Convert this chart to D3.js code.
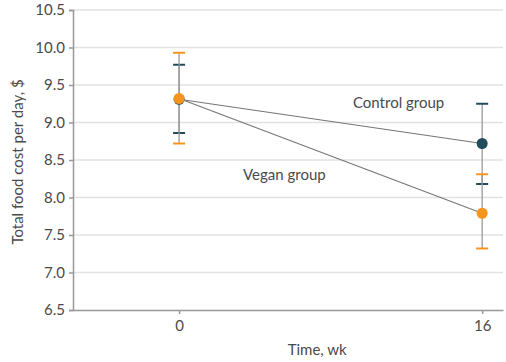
<!DOCTYPE html>
<html>
<head>
<meta charset="utf-8">
<script src="https://cdn.jsdelivr.net/npm/d3@7"></script>
<style>
  body { margin: 0; background: #fff; }
  text { font-family: Lato, "Open Sans", sans-serif; fill: #4a4a4a; }
</style>
</head>
<body>
<div id="chart"></div>
<script>
// data
const weeks = [0, 16];
const groups = ["Control group", "Vegan group"];
const controlMean = [9.31, 8.72];
const controlLow = [8.86, 8.18];
const controlHigh = [9.77, 9.25];
const veganMean = [9.32, 7.79];
const veganLow = [8.72, 7.32];
const veganHigh = [9.93, 8.31];
const yTicks = [6.5, 7.0, 7.5, 8.0, 8.5, 9.0, 9.5, 10.0, 10.5];

const W = 506, H = 362;
const margin = { top: 10, right: 3, bottom: 52, left: 73 };
const width = W - margin.left - margin.right;
const height = H - margin.top - margin.bottom;

const svg = d3.select("#chart")
  .append("svg")
  .attr("width", W)
  .attr("height", H)
  .append("g")
  .attr("transform", `translate(${margin.left}, ${margin.top})`);

const x = d3.scaleLinear().domain([-5.6, 17.1]).range([0, width]);
const y = d3.scaleLinear().domain([6.5, 10.5]).range([height, 0]);

const colors = { control: "#1f4d5c", vegan: "#f7941d" };
const fs = "15px";

// grid
svg.append("g")
  .selectAll("line")
  .data(yTicks.slice(1))
  .join("line")
  .attr("x1", 0).attr("x2", width)
  .attr("y1", d => y(d)).attr("y2", d => y(d))
  .attr("stroke", "#e2e2e2")
  .attr("stroke-width", 1.5);

// y axis
const yAxis = svg.append("g")
  .call(d3.axisLeft(y).tickValues(yTicks).tickFormat(d3.format(".1f")).tickSize(4).tickPadding(4));
yAxis.select(".domain").attr("stroke", "#999").attr("stroke-width", 1.5);
yAxis.selectAll(".tick line").attr("stroke", "#999").attr("stroke-width", 1.5);
yAxis.selectAll("text").style("font-size", fs).attr("fill", "#4a4a4a");

// x axis
const xAxis = svg.append("g")
  .attr("transform", `translate(0, ${height})`)
  .call(d3.axisBottom(x).tickValues(weeks).tickSize(4).tickPadding(6).tickSizeOuter(0));
xAxis.select(".domain").attr("stroke", "#999").attr("stroke-width", 1.5);
xAxis.selectAll(".tick line").attr("stroke", "#999").attr("stroke-width", 1.5);
xAxis.selectAll("text").style("font-size", fs).attr("fill", "#4a4a4a");

// axis titles
svg.append("text")
  .attr("x", x(7.5) - 4)
  .attr("y", height + 45)
  .attr("text-anchor", "middle")
  .style("font-size", fs)
  .text("Time, wk");

svg.append("text")
  .attr("transform", "rotate(-90)")
  .attr("x", -height / 2 - 2)
  .attr("y", -50)
  .attr("text-anchor", "middle")
  .style("font-size", fs)
  .text("Total food cost per day, $");

const series = [
  { key: "control", mean: controlMean, low: controlLow, high: controlHigh },
  { key: "vegan", mean: veganMean, low: veganLow, high: veganHigh }
];

// connecting lines
const line = d3.line().x((d, i) => x(weeks[i])).y(d => y(d));
series.forEach(s => {
  svg.append("path")
    .datum(s.mean)
    .attr("d", line)
    .attr("fill", "none")
    .attr("stroke", "#777")
    .attr("stroke-width", 1.2);
});

// error bars
series.forEach(s => {
  const g = svg.append("g");
  weeks.forEach((w, i) => {
    g.append("line")
      .attr("x1", x(w)).attr("x2", x(w))
      .attr("y1", y(s.low[i])).attr("y2", y(s.high[i]))
      .attr("stroke", "#999")
      .attr("stroke-width", 1.3);
    [s.low[i], s.high[i]].forEach(v => {
      g.append("line")
        .attr("x1", x(w) - 6).attr("x2", x(w) + 6)
        .attr("y1", y(v)).attr("y2", y(v))
        .attr("stroke", colors[s.key])
        .attr("stroke-width", 2);
    });
  });
});

// points
series.forEach(s => {
  svg.append("g")
    .selectAll("circle")
    .data(s.mean)
    .join("circle")
    .attr("cx", (d, i) => x(weeks[i]))
    .attr("cy", d => y(d))
    .attr("r", 5.5)
    .attr("fill", colors[s.key]);
});

// group labels
svg.append("text")
  .attr("x", x(9.18))
  .attr("y", y(9.19))
  .style("font-size", fs)
  .text(groups[0]);

svg.append("text")
  .attr("x", x(3.38))
  .attr("y", y(8.24))
  .style("font-size", fs)
  .text(groups[1]);
</script>
</body>
</html>
